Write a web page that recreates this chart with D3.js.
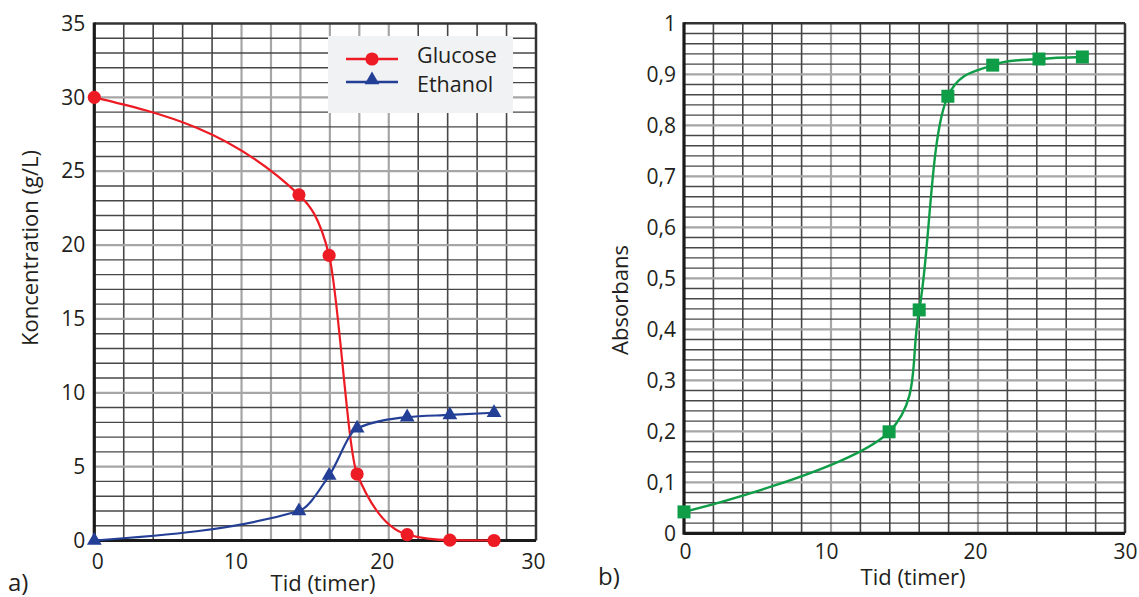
<!DOCTYPE html>
<html>
<head>
<meta charset="utf-8">
<script src="https://cdn.jsdelivr.net/npm/d3@7/dist/d3.min.js"></script>
<style>
  html, body { margin: 0; padding: 0; background: #fff; }
  svg { display: block; font-family: "Open Sans", sans-serif; }
</style>
</head>
<body>
<svg id="chart" width="1139" height="597"></svg>
<script>
// ---------- data ----------
const timeA = [0, 13.9, 15.95, 17.85, 21.25, 24.15, 27.15];
const glucose = [30, 23.4, 19.3, 4.5, 0.4, 0.02, 0];
const ethanol = [0, 2.0, 4.4, 7.6, 8.35, 8.5, 8.65];

const timeB = [0, 13.95, 16.0, 17.95, 21.0, 24.15, 27.1];
const absorbans = [0.042, 0.199, 0.438, 0.857, 0.918, 0.93, 0.934];

const xTicks = [0, 10, 20, 30];
const yTicksA = [0, 5, 10, 15, 20, 25, 30, 35];
const yTicksB = [0, 0.1, 0.2, 0.3, 0.4, 0.5, 0.6, 0.7, 0.8, 0.9, 1];
const yLabelsB = ["0", "0,1", "0,2", "0,3", "0,4", "0,5", "0,6", "0,7", "0,8", "0,9", "1"];
const seriesNames = ["Glucose", "Ethanol"];

// ---------- styles ----------
const RED = "#ed1c24", BLUE = "#233f96", GREEN = "#0f9d48";
const DARK = "#474747", LIGHT = "#a6a6a6";

const svg = d3.select("#chart");

function drawPanel(opts) {
  const g = svg.append("g");
  const x = d3.scaleLinear().domain([0, 30]).range(opts.xr);
  const y = d3.scaleLinear().domain(opts.yDomain).range(opts.yr);

  // vertical grid (every 2 units)
  const vg = d3.range(2, 30, 2);
  g.selectAll(".vg").data(vg).join("line")
    .attr("x1", d => x(d)).attr("x2", d => x(d))
    .attr("y1", opts.yr[1]).attr("y2", opts.yr[0])
    .attr("stroke", d => opts.vLight(d) ? LIGHT : DARK)
    .attr("stroke-width", d => opts.vLight(d) ? 2.2 : 1.6);

  // horizontal grid
  g.selectAll(".hg").data(opts.hGrid).join("line")
    .attr("x1", opts.xr[0]).attr("x2", opts.xr[1])
    .attr("y1", d => y(d)).attr("y2", d => y(d))
    .attr("stroke", d => opts.hLight(d) ? LIGHT : DARK)
    .attr("stroke-width", d => opts.hLight(d) ? 2.2 : 1.4);

  // border
  g.append("line").attr("x1", opts.xr[0]).attr("x2", opts.xr[1])
    .attr("y1", opts.yr[1]).attr("y2", opts.yr[1])
    .attr("stroke", "#333").attr("stroke-width", 2.5);
  g.append("line").attr("x1", opts.xr[1]).attr("x2", opts.xr[1])
    .attr("y1", opts.yr[1]).attr("y2", opts.yr[0])
    .attr("stroke", "#333").attr("stroke-width", 2.5);
  g.append("line").attr("x1", opts.xr[0]).attr("x2", opts.xr[1])
    .attr("y1", opts.yr[0]).attr("y2", opts.yr[0])
    .attr("stroke", "#1a1a1a").attr("stroke-width", 3.2);
  g.append("line").attr("x1", opts.xr[0]).attr("x2", opts.xr[0])
    .attr("y1", opts.yr[1] - 1).attr("y2", opts.yr[0] + 1.5)
    .attr("stroke", "#1a1a1a").attr("stroke-width", 3.2);

  // axes
  const ax = g.append("g").attr("transform", `translate(0,${opts.yr[0]})`)
    .call(d3.axisBottom(x).tickValues(xTicks).tickSize(0).tickPadding(opts.xPad));
  ax.select(".domain").remove();
  ax.selectAll("text").attr("font-size", 21).attr("fill", "#231f20")
    .attr("font-family", "Open Sans")
    .attr("dx", (d, i) => opts.xDx[i]);

  const ay = g.append("g").attr("transform", `translate(${opts.xr[0]},0)`)
    .call(d3.axisLeft(y).tickValues(opts.yTicks).tickSize(0).tickPadding(opts.yPad)
      .tickFormat(opts.yFormat));
  ay.select(".domain").remove();
  ay.selectAll("text").attr("font-size", 21).attr("fill", "#231f20")
    .attr("font-family", "Open Sans");

  return { g, x, y };
}

// ---------- panel a ----------
const A = drawPanel({
  xr: [94.3, 536], yr: [540.5, 23.5], yDomain: [0, 35],
  hGrid: d3.range(1, 35, 1),
  vLight: d => d >= 10 && d <= 20,
  hLight: d => d % 5 === 0,
  yTicks: yTicksA, yFormat: d => d, xPad: 14, yPad: 9,
  xDx: [3, -6, -7, -3]
});

const lineA = (vals) => d3.line()
  .x((d, i) => A.x(timeA[i])).y(d => A.y(d))
  .curve(d3.curveMonotoneX)(vals);

A.g.append("path").attr("d", lineA(glucose)).attr("fill", "none")
  .attr("stroke", RED).attr("stroke-width", 2.2);
A.g.append("path").attr("d", lineA(ethanol)).attr("fill", "none")
  .attr("stroke", BLUE).attr("stroke-width", 2.2);

A.g.selectAll(".gm").data(glucose).join("circle")
  .attr("cx", (d, i) => A.x(timeA[i])).attr("cy", d => A.y(d))
  .attr("r", 6.6).attr("fill", RED);
A.g.selectAll(".em").data(ethanol).join("path")
  .attr("d", d3.symbol(d3.symbolTriangle, 95))
  .attr("transform", (d, i) => `translate(${A.x(timeA[i])},${A.y(d)})`)
  .attr("fill", BLUE);

// legend
const leg = A.g.append("g");
leg.append("rect").attr("x", 328).attr("y", 36).attr("width", 185).attr("height", 77)
  .attr("fill", "#f1f2f3");
const legY = [59, 82];
const legTextY = [55, 84.5];
const legCol = [RED, BLUE];
seriesNames.forEach((name, i) => {
  leg.append("line").attr("x1", 346).attr("x2", 398).attr("y1", legY[i]).attr("y2", legY[i])
    .attr("stroke", legCol[i]).attr("stroke-width", 2.4);
  if (i === 0) {
    leg.append("circle").attr("cx", 372).attr("cy", legY[i]).attr("r", 6.6).attr("fill", RED);
  } else {
    leg.append("path").attr("d", d3.symbol(d3.symbolTriangle, 95))
      .attr("transform", `translate(372,${legY[i] - 2})`).attr("fill", BLUE);
  }
  leg.append("text").attr("x", 417).attr("y", legTextY[i]).attr("dy", "0.35em")
    .attr("font-size", 21.5).attr("fill", "#231f20").text(name);
});

// titles a
svg.append("text").attr("x", 323).attr("y", 583).attr("dy", "0.35em")
  .attr("text-anchor", "middle").attr("font-size", 22).attr("fill", "#231f20")
  .text("Tid (timer)");
svg.append("text").attr("transform", "translate(30,248) rotate(-90)").attr("dy", "0.35em")
  .attr("text-anchor", "middle").attr("font-size", 22).attr("fill", "#231f20")
  .text("Koncentration (g/L)");
svg.append("text").attr("x", 8).attr("y", 583).attr("dy", "0.35em")
  .attr("font-size", 24).attr("fill", "#231f20").text("a)");

// ---------- panel b ----------
const B = drawPanel({
  xr: [684, 1125], yr: [533.3, 23.3], yDomain: [0, 1],
  hGrid: d3.range(1, 50, 1).map(k => k / 50),
  vLight: d => d === 10 || d === 20,
  hLight: d => Math.abs(d * 10 - Math.round(d * 10)) < 1e-6,
  yTicks: yTicksB, yFormat: (d, i) => yLabelsB[i], xPad: 11, yPad: 8,
  xDx: [1, -5, -3, 0]
});

B.g.append("path").attr("d", d3.line()
    .x((d, i) => B.x(timeB[i])).y(d => B.y(d))
    .curve(d3.curveCatmullRom.alpha(0.3))(absorbans))
  .attr("fill", "none").attr("stroke", GREEN).attr("stroke-width", 2.4);
B.g.selectAll(".am").data(absorbans).join("rect")
  .attr("x", (d, i) => B.x(timeB[i]) - 6.5).attr("y", d => B.y(d) - 6.5)
  .attr("width", 13).attr("height", 13).attr("fill", GREEN);

svg.append("text").attr("x", 913).attr("y", 577).attr("dy", "0.35em")
  .attr("text-anchor", "middle").attr("font-size", 22).attr("fill", "#231f20")
  .text("Tid (timer)");
svg.append("text").attr("transform", "translate(620,300) rotate(-90)").attr("dy", "0.35em")
  .attr("text-anchor", "middle").attr("font-size", 22).attr("fill", "#231f20")
  .text("Absorbans");
svg.append("text").attr("x", 598).attr("y", 577).attr("dy", "0.35em")
  .attr("font-size", 24).attr("fill", "#231f20").text("b)");
</script>
</body>
</html>
